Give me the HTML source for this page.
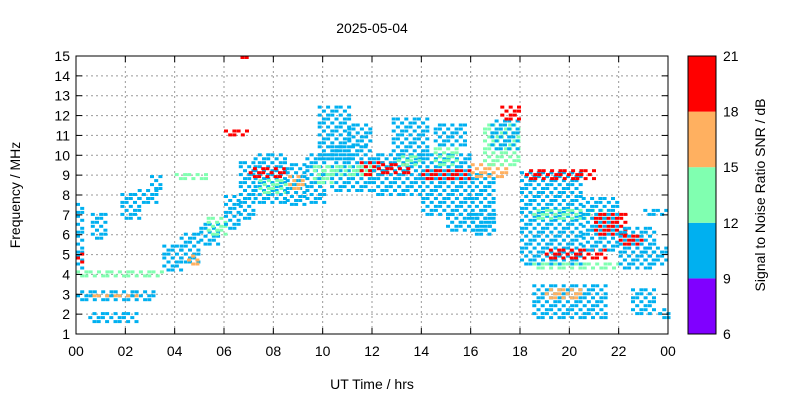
<!DOCTYPE html>
<html><head><meta charset="utf-8"><style>
body{margin:0;background:#fff;}
text{font-family:"Liberation Sans",sans-serif;font-size:14px;fill:#000;}
</style></head><body>
<svg id="c" width="800" height="400" xmlns="http://www.w3.org/2000/svg">
<rect width="800" height="400" fill="#fff"/>
<text x="372" y="33" text-anchor="middle">2025-05-04</text>
<g id="grid"></g><g id="marks"></g><g id="axes"></g>
<text x="372" y="389" text-anchor="middle">UT Time / hrs</text>
<text transform="translate(20,195) rotate(-90)" text-anchor="middle">Frequency / MHz</text>
<text transform="translate(765,195) rotate(-90)" text-anchor="middle">Signal to Noise Ratio SNR / dB</text>
<g id="cbar"></g>
</svg>
<script>
const xTicks=["00","02","04","06","08","10","12","14","16","18","20","22","00"];
const yTicks=[1,2,3,4,5,6,7,8,9,10,11,12,13,14,15];
const cbTicks=[6,9,12,15,18,21];
const cbColors=["#8000ff","#00b0f0","#80ffb0","#ffb060","#ff0000"];
// segments: start hour, end hour, low MHz, high MHz, SNR dB
const segT0=[0,0,0.5,0.5,0,0,0.6,1.8,2.5,3,3.5,4.2,4.5,5,5.3,4,6,6.6,7.2,7,7.4,8.5,8.6,6,6.5,9.3,9.6,9.8,10.3,10,11,11.5,12,12.2,12.8,13,14,14,14.5,14.5,16,16,16.5,16.8,17.2,15,18,18.2,18.5,19,20.5,18.5,19,21,18.5,22,22,23,22.5,23,23.6];
const segT1=[3.5,3.2,2.5,2.5,0.3,0.2,1.2,2.6,3.3,3.5,4.2,5,5,5.7,6,5.2,6.6,7.2,8.5,8.5,8.5,9.3,9.2,7,7,10,10.3,11,12,12,12,12.5,14,13.5,14.3,14,16,16,15.5,15.8,17,17.5,18,17.9,18,17,20.5,21,21.5,21.5,22,21.5,20.5,22.2,22,23.5,23,24,23.5,24,24];
const segLo=[3.9,2.7,2.9,1.6,4.3,4.6,5.8,6.8,7.6,8.3,4.2,4.6,4.5,5.5,6,8.8,6.3,6.8,7.6,8.9,8.1,7.5,8.3,11,14.9,7.6,8.6,9.8,8.2,9,10.5,9,8,9.1,10,9.5,7,8.8,9.5,10.5,6,8.9,9.5,10.3,11.8,6.2,4.5,8.8,6.8,4.8,5.2,1.8,2.8,6,4.3,4.3,5.5,4.5,2,7,1.8];
const segHi=[4.1,3.2,3.0,2.1,7.5,5,7,8,8.3,9,5.4,6,5,6.6,6.8,9,8,9.7,10,9.4,8.8,9.5,9.0,11.3,15,10,9.4,12.4,10.4,9.5,11.5,9.6,10,9.5,11.8,10,10,9.3,10.5,11.5,9,9.5,11.5,11.8,12.4,7,9.2,9.2,7.2,5.3,7.8,3.4,3.2,7,4.6,6.3,6,5.3,3.2,7.3,2.2];
const segSnr=[13,10,16,10,10,19,10,10,10,10,10,10,16,10,13,13,10,10,10,19,13,10,16,19,19,10,13,10,10,13,10,19,10,19,10,13,10,19,13,10,10,16,13,10,19,10,10,19,13,19,10,10,16,19,13,10,19,10,10,10,10];
const NS="http://www.w3.org/2000/svg";
const L=76,R=668,T=56,B=334;
const xs=t=>L+t*(R-L)/24, ys=f=>B-(f-1)*(B-T)/14;
function mk(tag,a,p){const e=document.createElementNS(NS,tag);for(const k in a)e.setAttribute(k,a[k]);p.appendChild(e);return e;}
const grid=document.getElementById('grid'),axes=document.getElementById('axes'),marks=document.getElementById('marks'),cb=document.getElementById('cbar');
xTicks.forEach((s,i)=>{const x=xs(i*2);
 if(i>0&&i<12){const g=mk('line',{x1:x,x2:x,y1:T,y2:B,stroke:'#999','stroke-dasharray':'2,3'},grid);}
 mk('line',{x1:x,x2:x,y1:B,y2:B-6,stroke:'#000'},axes);mk('line',{x1:x,x2:x,y1:T,y2:T+6,stroke:'#000'},axes);
 const t=mk('text',{x:x,y:B+22,'text-anchor':'middle'},axes);t.textContent=s;
 });
yTicks.forEach(v=>{const y=ys(v);
 if(v>1&&v<15){const g=mk('line',{x1:L,x2:R,y1:y,y2:y,stroke:'#999','stroke-dasharray':'2,3'},grid);}
 mk('line',{x1:L,x2:L+6,y1:y,y2:y,stroke:'#000'},axes);mk('line',{x1:R,x2:R-6,y1:y,y2:y,stroke:'#000'},axes);
 const t=mk('text',{x:L-6,y:y+5,'text-anchor':'end'},axes);t.textContent=v;
 });
const fr=mk('rect',{x:L,y:T,width:R-L,height:B-T,fill:'none',stroke:'#000'},axes);

function col(s){return cbColors[Math.max(0,Math.min(4,Math.floor((s-6)/3)))];}
for(let k=0;k<segT0.length;k++){
 const c=col(segSnr[k]);let i=0;
 for(let t=segT0[k];t<segT1[k];t+=0.17,i++){let j=0;
  for(let f=segLo[k];f<=segHi[k]+0.01;f+=0.2,j++){
   if((i*7+j*3)%5<2)continue;
   const r=mk('rect',{x:xs(t).toFixed(1),y:(ys(f)-2).toFixed(1),width:4,height:3,fill:c},marks);
   
   }}}
const cx=688,cw=28,ct=56,cbh=278;
cbColors.forEach((c,i)=>{const h=cbh/5;const r=mk('rect',{x:cx,y:ct+cbh-(i+1)*h,width:cw,height:h,fill:c},cb);
 });
mk('rect',{x:cx,y:ct,width:cw,height:cbh,fill:'none',stroke:'#000'},cb);
cbTicks.forEach((v,i)=>{const y=ct+cbh-i*cbh/5;
 const t=mk('text',{x:cx+cw+7,y:y+5},cb);t.textContent=v;
 });
</script>
</body></html>
